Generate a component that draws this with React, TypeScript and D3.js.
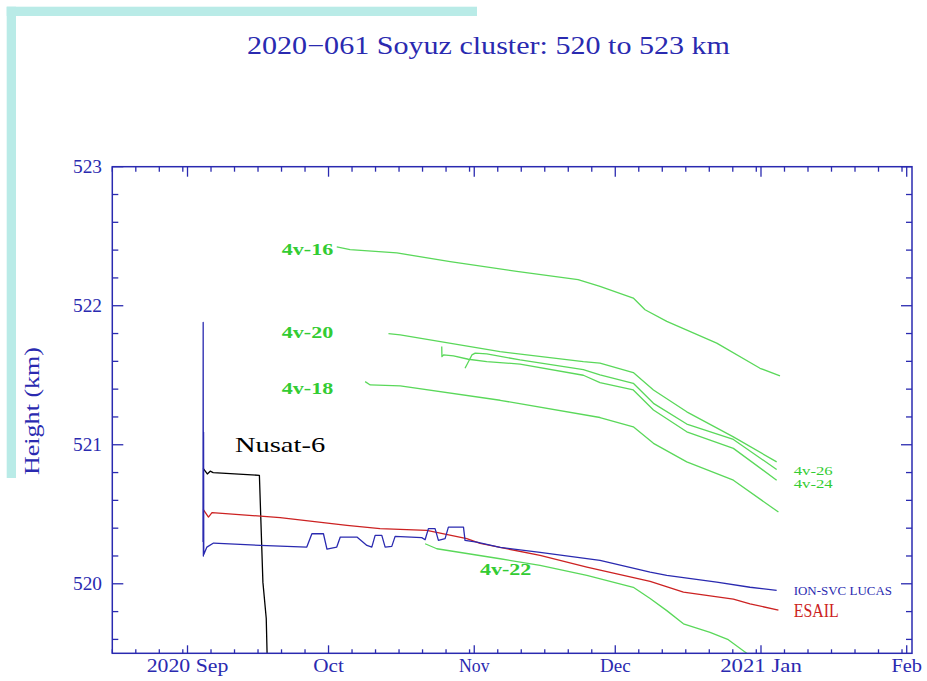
import React from "react";
import * as d3 from "d3";

const W = 927;
const H = 681;
const parse = d3.timeParse("%Y-%m-%d %H");

const TITLE = "2020\u2212061 Soyuz cluster: 520 to 523 km";
const Y_TITLE = "Height (km)";
const X_DOMAIN = ["2020-08-16 00", "2021-02-02 03"];
const Y_DOMAIN = [519.5, 523];
const Y_MAJOR = [520, 521, 522, 523];
const X_LABEL_DATES = ["2020-09-01 00", "2020-10-01 00", "2020-11-01 00", "2020-12-01 00", "2021-01-01 00", "2021-02-01 00"];
const X_LABELS = ["2020 Sep", "Oct", "Nov", "Dec", "2021 Jan", "Feb"];

type P = [string, number];

const nusat6: P[] = [
  ["2020-09-04 08", 520.83], ["2020-09-05 05", 520.79], ["2020-09-05 20", 520.81],
  ["2020-09-06 11", 520.8], ["2020-09-16 07", 520.78], ["2020-09-17 01", 520.01],
  ["2020-09-17 18", 519.75], ["2020-09-18 00", 519.4],
];

const ionSvcLucas: P[] = [
  ["2020-09-04 07", 520.3], ["2020-09-04 08", 521.88], ["2020-09-04 09", 520.2],
  ["2020-09-04 10", 521.09], ["2020-09-04 11", 520.21], ["2020-09-05 03", 520.264],
  ["2020-09-06 13", 520.293], ["2020-09-16 11", 520.276], ["2020-09-26 09", 520.264],
  ["2020-09-27 11", 520.36], ["2020-09-29 22", 520.36], ["2020-09-30 16", 520.25],
  ["2020-10-02 18", 520.264], ["2020-10-03 12", 520.336], ["2020-10-07 01", 520.336],
  ["2020-10-09 04", 520.276], ["2020-10-10 05", 520.264], ["2020-10-10 22", 520.348],
  ["2020-10-12 08", 520.348], ["2020-10-13 01", 520.264], ["2020-10-14 11", 520.269],
  ["2020-10-15 04", 520.341], ["2020-10-20 20", 520.332], ["2020-10-21 13", 520.317],
  ["2020-10-22 06", 520.397], ["2020-10-23 16", 520.397], ["2020-10-24 09", 520.312],
  ["2020-10-25 19", 520.325], ["2020-10-26 12", 520.408], ["2020-10-29 17", 520.408],
  ["2020-10-30 01", 520.312], ["2020-11-01 13", 520.3], ["2020-11-06 12", 520.262],
  ["2020-11-15 00", 520.226], ["2020-11-27 18", 520.168], ["2020-12-08 10", 520.084],
  ["2020-12-11 23", 520.06], ["2020-12-22 14", 520.012], ["2020-12-29 16", 519.975],
  ["2021-01-04 08", 519.952],
];

const esail: P[] = [
  ["2020-09-04 08", 520.536], ["2020-09-05 11", 520.48], ["2020-09-06 05", 520.512],
  ["2020-09-20 17", 520.476], ["2020-10-04 22", 520.42], ["2020-10-11 23", 520.397],
  ["2020-10-21 22", 520.384], ["2020-10-30 10", 520.325], ["2020-11-02 06", 520.29],
  ["2020-11-15 00", 520.204], ["2020-11-24 23", 520.12], ["2020-12-08 10", 520.017],
  ["2020-12-15 12", 519.94], ["2020-12-26 03", 519.89], ["2020-12-29 16", 519.856],
  ["2021-01-04 17", 519.81],
];

const v16: P[] = [
  ["2020-10-02 18", 522.423], ["2020-10-05 14", 522.404], ["2020-10-15 13", 522.38],
  ["2020-10-26 21", 522.317], ["2020-11-10 01", 522.247], ["2020-11-23 02", 522.187],
  ["2020-11-27 18", 522.139], ["2020-12-04 20", 522.055], ["2020-12-07 08", 521.971],
  ["2020-12-11 23", 521.887], ["2020-12-22 14", 521.731], ["2020-12-31 19", 521.55],
  ["2021-01-05 01", 521.495],
];

const v20: P[] = [
  ["2020-10-13 18", 521.8], ["2020-10-16 06", 521.79], ["2020-11-06 12", 521.67],
  ["2020-11-24 05", 521.598], ["2020-11-27 18", 521.587], ["2020-12-04 20", 521.519],
  ["2020-12-09 03", 521.394], ["2020-12-16 05", 521.237], ["2020-12-26 03", 521.057],
  ["2021-01-04 08", 520.877],
];

const v26: P[] = [
  ["2020-10-30 01", 521.55], ["2020-10-31 12", 521.646], ["2020-11-01 05", 521.659],
  ["2020-11-03 16", 521.654], ["2020-11-10 18", 521.61], ["2020-11-24 05", 521.54],
  ["2020-11-27 18", 521.503], ["2020-12-04 20", 521.442], ["2020-12-09 03", 521.298],
  ["2020-12-16 05", 521.149], ["2020-12-26 03", 521.038], ["2021-01-04 08", 520.822],
];

const v24: P[] = [
  ["2020-10-25 02", 521.706], ["2020-10-25 03", 521.634], ["2020-10-25 11", 521.646],
  ["2020-10-27 14", 521.64], ["2020-10-30 18", 521.615], ["2020-11-03 16", 521.598],
  ["2020-11-10 18", 521.58], ["2020-11-24 05", 521.5], ["2020-11-27 18", 521.447],
  ["2020-12-04 20", 521.394], ["2020-12-09 03", 521.25], ["2020-12-16 05", 521.093],
  ["2020-12-26 03", 520.974], ["2021-01-04 08", 520.745],
];

const v18: P[] = [
  ["2020-10-08 19", 521.454], ["2020-10-09 21", 521.43], ["2020-10-16 06", 521.423],
  ["2020-11-06 12", 521.32], ["2020-11-27 18", 521.196], ["2020-12-04 20", 521.129],
  ["2020-12-09 03", 521.01], ["2020-12-16 05", 520.877], ["2020-12-26 03", 520.745],
  ["2021-01-04 17", 520.516],
];

const v22: P[] = [
  ["2020-10-21 13", 520.288], ["2020-10-24 01", 520.252], ["2020-11-06 12", 520.18],
  ["2020-11-15 00", 520.132], ["2020-11-24 23", 520.06], ["2020-12-04 20", 519.975],
  ["2020-12-08 10", 519.894], ["2020-12-11 23", 519.807], ["2020-12-15 12", 519.712],
  ["2020-12-21 04", 519.651], ["2020-12-25 01", 519.598], ["2020-12-28 23", 519.5],
  ["2020-12-30 02", 519.47],
];

const GREEN = "#5ad85a";
const GREEN_TEXT = "#33cc33";
const BLUE = "#2a2ab0";
const RED = "#cc2222";

const SERIES = [
  { name: "4v-16", data: v16, color: GREEN },
  { name: "4v-20", data: v20, color: GREEN },
  { name: "4v-26", data: v26, color: GREEN },
  { name: "4v-24", data: v24, color: GREEN },
  { name: "4v-18", data: v18, color: GREEN },
  { name: "4v-22", data: v22, color: GREEN },
  { name: "Nusat-6", data: nusat6, color: "#000000" },
  { name: "ESAIL", data: esail, color: RED },
  { name: "ION-SVC LUCAS", data: ionSvcLucas, color: BLUE },
];

// label anchors (start of text, baseline) in data coordinates
const LABEL_TEXT = ["4v-16", "4v-20", "4v-18", "Nusat-6", "4v-22", "4v-26", "4v-24", "ION-SVC LUCAS", "ESAIL"];
const LABEL_DATE = ["2020-09-21 01", "2020-09-21 01", "2020-09-21 01", "2020-09-11 02", "2020-11-02 05", "2021-01-07 23", "2021-01-07 23", "2021-01-07 23", "2021-01-07 23"];
const LABEL_H = [522.365, 521.768, 521.365, 520.948, 520.063, 520.78, 520.687, 519.919, 519.761];
const LABEL_STYLE = [
  { color: GREEN_TEXT, size: 17, cw: 10.3, bold: true },
  { color: GREEN_TEXT, size: 17, cw: 10.3, bold: true },
  { color: GREEN_TEXT, size: 17, cw: 10.3, bold: true },
  { color: "#000", size: 21, cw: 12.9, bold: false },
  { color: GREEN_TEXT, size: 17, cw: 10.3, bold: true },
  { color: GREEN_TEXT, size: 11.5, cw: 7.8, bold: false },
  { color: GREEN_TEXT, size: 11.5, cw: 7.8, bold: false },
  { color: BLUE, size: 12.5, cw: 7.56, bold: false },
  { color: RED, size: 18, cw: 9, bold: false },
];

const FONT = "'Liberation Serif', 'DejaVu Serif', serif";

export default function App() {
  const L = 112.3, R = 912, T = 166.7, B = 653.3;
  const x = d3.scaleTime().domain(X_DOMAIN.map((s) => parse(s) as Date)).range([L, R]);
  const y = d3.scaleLinear().domain(Y_DOMAIN).range([B, T]);
  const line = d3
    .line<P>()
    .x((d) => x(parse(d[0]) as Date))
    .y((d) => y(d[1]));

  const [d0, d1] = x.domain();
  const days = d3.timeDay.range(d0, d1);
  const xMajor = days.filter((d) => d.getDate() === 1);
  const xMinor = days.filter((d) => [6, 11, 16, 21, 26, 31].includes(d.getDate()));
  const yAll = d3.range(5196, 5231, 2).map((v) => v / 10);
  const yMinor = yAll.filter((v) => !Y_MAJOR.includes(v));

  return (
    <svg width={W} height={H} style={{ position: "absolute", left: 0, top: 0, background: "#fff" }}>
      <rect x={0} y={0} width={W} height={H} fill="#fff" />
      <rect x={6.7} y={6.7} width={470.3} height={9.3} fill="#b9ebe7" />
      <rect x={6.7} y={6.7} width={9.3} height={471.3} fill="#b9ebe7" />

      <text x={488.5} y={54} textAnchor="middle" fill={BLUE} fontFamily={FONT} fontSize={25}
        textLength={483} lengthAdjust="spacingAndGlyphs">{TITLE}</text>

      <text transform={`translate(39,411) rotate(-90)`} textAnchor="middle" fill={BLUE} fontFamily={FONT}
        fontSize={20} textLength={128} lengthAdjust="spacingAndGlyphs">{Y_TITLE}</text>

      <defs>
        <clipPath id="plotclip">
          <rect x={L} y={T} width={R - L} height={B - T} />
        </clipPath>
      </defs>

      <g clipPath="url(#plotclip)" fill="none" strokeWidth={1.3} strokeLinejoin="round">
        {SERIES.map((s) => (
          <path key={s.name} d={line(s.data) || ""} stroke={s.color} />
        ))}
      </g>

      {/* frame */}
      <rect x={L} y={T} width={R - L} height={B - T} fill="none" stroke={BLUE} strokeWidth={1.5} />

      {/* ticks */}
      <g stroke={BLUE} strokeWidth={1.3}>
        {Y_MAJOR.map((v) => (
          <g key={"ym" + v}>
            <line x1={L} x2={L + 11} y1={y(v)} y2={y(v)} />
            <line x1={R} x2={R - 11} y1={y(v)} y2={y(v)} />
          </g>
        ))}
        {yMinor.map((v) => (
          <g key={"yn" + v}>
            <line x1={L} x2={L + 6} y1={y(v)} y2={y(v)} />
            <line x1={R} x2={R - 6} y1={y(v)} y2={y(v)} />
          </g>
        ))}
        {xMajor.map((d) => (
          <g key={"xm" + +d}>
            <line x1={x(d)} x2={x(d)} y1={B} y2={B - 8} />
            <line x1={x(d)} x2={x(d)} y1={T} y2={T + 10} />
          </g>
        ))}
        {xMinor.map((d) => (
          <g key={"xn" + +d}>
            <line x1={x(d)} x2={x(d)} y1={B} y2={B - 4} />
            <line x1={x(d)} x2={x(d)} y1={T} y2={T + 5} />
          </g>
        ))}
      </g>

      {Y_MAJOR.map((v) => (
        <text key={"yl" + v} x={102} y={y(v) + 6.3} textAnchor="end" fill={BLUE} fontFamily={FONT}
          fontSize={19} textLength={29} lengthAdjust="spacingAndGlyphs">{String(v)}</text>
      ))}

      {X_LABELS.map((lab, i) => (
        <text key={lab} x={x(parse(X_LABEL_DATES[i]) as Date)} y={672} textAnchor="middle" fill={BLUE}
          fontFamily={FONT} fontSize={19} textLength={lab.length * 10.2} lengthAdjust="spacingAndGlyphs">{lab}</text>
      ))}

      {LABEL_TEXT.map((t, i) => {
        const st = LABEL_STYLE[i];
        return (
          <text key={t} x={x(parse(LABEL_DATE[i]) as Date)} y={y(LABEL_H[i])} fill={st.color}
            fontFamily={FONT} fontSize={st.size} fontWeight={st.bold ? "bold" : "normal"}
            textLength={t.length * st.cw} lengthAdjust="spacingAndGlyphs">{t}</text>
        );
      })}
    </svg>
  );
}
